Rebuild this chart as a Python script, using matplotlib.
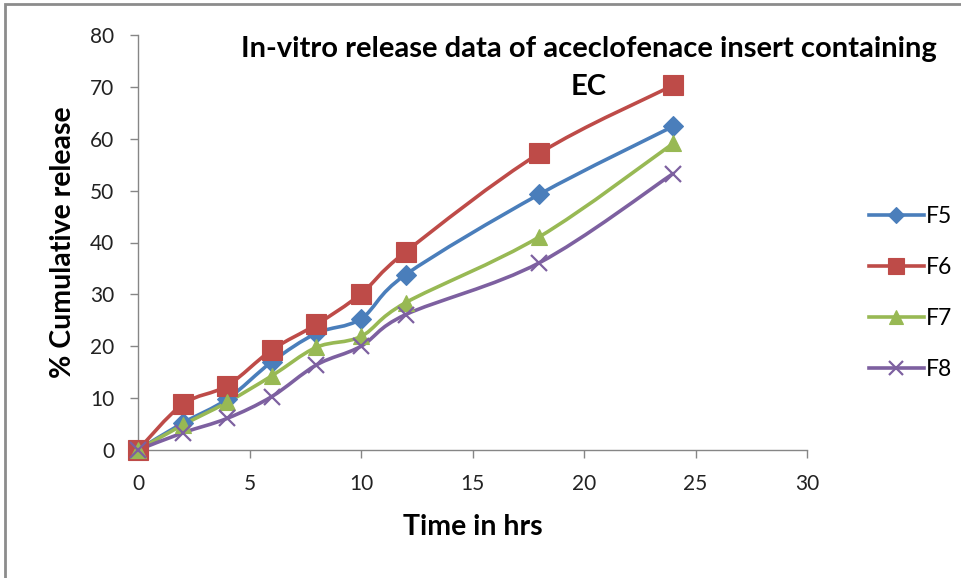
import numpy as np
import matplotlib
matplotlib.use("Agg")
import matplotlib.pyplot as plt
from matplotlib.path import Path
from matplotlib.patches import PathPatch, Rectangle
from matplotlib.lines import Line2D

plt.rcParams['font.family'] = ['Lato', 'DejaVu Sans']

# Sampling times (hrs) and cumulative release (%) per formulation
time_hrs = [0, 2, 4, 6, 8, 10, 12, 18, 24]
f5 = [0, 5.2, 9.8, 17.0, 22.5, 25.3, 33.8, 49.3, 62.4]
f6 = [0, 8.8, 12.4, 19.3, 24.2, 30.1, 38.2, 57.2, 70.3]
f7 = [0, 4.8, 9.2, 14.3, 19.8, 21.9, 28.4, 41.1, 59.1]
f8 = [0, 3.3, 6.1, 10.3, 16.4, 20.0, 26.1, 36.1, 53.3]

series_names = ['F5', 'F6', 'F7', 'F8']
series_values = [f5, f6, f7, f8]
colors = ['#4A7EBB', '#BE4B48', '#98B954', '#7D60A0']
markers = ['D', 's', '^', 'x']
msizes = [10, 14, 12, 12]

x_ticks = [0, 5, 10, 15, 20, 25, 30]
y_ticks = [0, 10, 20, 30, 40, 50, 60, 70, 80]


def smooth_path(ax, xs, ys, tension=1 / 6):
    """Cubic Bezier path through the points (Catmull-Rom style smoothing),
    built in display space so the curvature looks even on screen."""
    pts = ax.transData.transform(np.column_stack([xs, ys]))
    n = len(pts)
    verts = [pts[0]]
    codes = [Path.MOVETO]
    for i in range(n - 1):
        p0 = pts[i - 1] if i > 0 else pts[i]
        p1 = pts[i]
        p2 = pts[i + 1]
        p3 = pts[i + 2] if i + 2 < n else pts[i + 1]
        c1 = p1 + (p2 - p0) * tension
        c2 = p2 - (p3 - p1) * tension
        verts += [c1, c2, p2]
        codes += [Path.CURVE4] * 3
    return Path(np.array(verts), codes)


fig = plt.figure(figsize=(9.62, 5.78), dpi=100)
ax = fig.add_axes([138 / 962, 1 - 450 / 578, 669 / 962, 415 / 578])
ax.set_xlim(0, 30)
ax.set_ylim(0, 80)

spine_col = '#868686'
for side in ('top', 'right'):
    ax.spines[side].set_visible(False)
for side in ('left', 'bottom'):
    ax.spines[side].set_color(spine_col)
    ax.spines[side].set_linewidth(1.0)
ax.set_xticks(x_ticks)
ax.set_yticks(y_ticks)
ax.tick_params(axis='both', direction='out', length=6, width=1.0,
               color=spine_col, labelsize=15, labelcolor='#222222', pad=11)

fig.canvas.draw()
for name, vals, c, m, ms in zip(series_names, series_values, colors, markers, msizes):
    path = smooth_path(ax, time_hrs, vals)
    patch = PathPatch(path, facecolor='none', edgecolor=c, lw=2.6,
                      transform=None, zorder=3, capstyle='round', joinstyle='round')
    ax.add_patch(patch)
    ax.plot(time_hrs, vals, linestyle='none', marker=m, color=c, markersize=ms,
            markeredgewidth=1.6 if m == 'x' else 0.8, markeredgecolor=c,
            zorder=4, clip_on=False)

ax.set_xlabel('Time in hrs', fontsize=20.5, fontweight='bold', labelpad=15)
ax.set_ylabel('% Cumulative release', fontsize=20.5, fontweight='bold', labelpad=10)

fig.text(589 / 962, 1 - 36 / 578,
         'In-vitro release data of aceclofenace insert containing\nEC',
         ha='center', va='top', fontsize=21, fontweight='bold', linespacing=1.55)

handles = [Line2D([], [], color=c, lw=2.6, marker=m, markersize=ms * 0.85,
                  markeredgewidth=1.6 if m == 'x' else 0.8)
           for c, m, ms in zip(colors, markers, msizes)]
fig.legend(handles, series_names, loc='center left',
           bbox_to_anchor=(848 / 962, 1 - 293 / 578), frameon=False,
           fontsize=16.5, handlelength=2.4, handletextpad=0.1, labelspacing=1.3)

# outer chart frame
fig.patches.append(Rectangle((5 / 962, -0.05), 1.2, 1 - 4 / 578 + 0.05,
                             transform=fig.transFigure, fill=False,
                             edgecolor='#8c8c8c', lw=2.0))

fig.savefig('out.png', dpi=100, facecolor='white')
